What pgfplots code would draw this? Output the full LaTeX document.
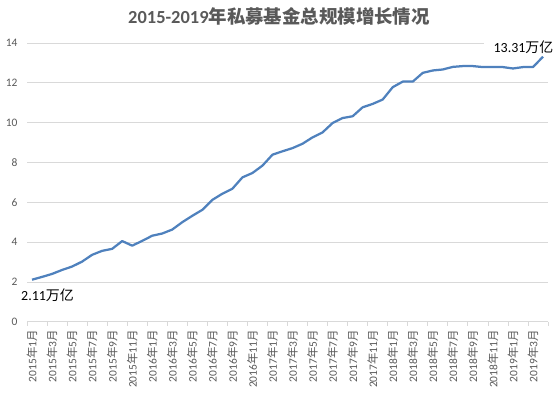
\documentclass[border=0pt]{standalone}
\usepackage{pgfplots}
\pgfplotsset{compat=1.18}
\usepackage{fontspec}
\setmainfont{Carlito}
\newfontfamily\cjk{Noto Sans CJK SC}
\definecolor{txt}{HTML}{595959}
\definecolor{gridc}{HTML}{D9D9D9}
\definecolor{linec}{HTML}{4F81BD}
\newcommand{\ym}[2]{#1{\cjk 年}#2{\cjk 月}}
\begin{document}
\begin{tikzpicture}[x=1bp,y=1bp]
\path[use as bounding box] (0,0) rectangle (558,395);
\node[font=\fontsize{18.5}{20}\selectfont\bfseries, text=txt] at (279,379) {2015-2019{\cjk\bfseries 年私募基金总规模增长情况}};
\begin{axis}[at={(27bp,73.3bp)}, anchor=south west,
  width=521bp, height=278.7bp, scale only axis,
  xmin=-0.5, xmax=51.5, ymin=0, ymax=14,
  ytick={0,2,...,14},
  axis lines*=left,
  x axis line style={gridc, line width=0.75bp},
  y axis line style={draw=none},
  ymajorgrids, grid style={gridc, line width=0.75bp},
  major tick length=0pt,
  ytick style={draw=none},
  major x tick style={draw=none},
  minor xtick={-0.5,1.5,...,51.5},
  minor tick length=4bp, tick align=outside,
  minor x tick style={gridc, line width=0.75bp},
  xtick={0,2,...,50},
  xticklabels={\ym{2015}{1},\ym{2015}{3},\ym{2015}{5},\ym{2015}{7},\ym{2015}{9},\ym{2015}{11},
    \ym{2016}{1},\ym{2016}{3},\ym{2016}{5},\ym{2016}{7},\ym{2016}{9},\ym{2016}{11},
    \ym{2017}{1},\ym{2017}{3},\ym{2017}{5},\ym{2017}{7},\ym{2017}{9},\ym{2017}{11},
    \ym{2018}{1},\ym{2018}{3},\ym{2018}{5},\ym{2018}{7},\ym{2018}{9},\ym{2018}{11},
    \ym{2019}{1},\ym{2019}{3}},
  x tick label style={rotate=90, anchor=east, font=\fontsize{11.5}{12}\selectfont, text=txt},
  xticklabel shift=5bp,
  y tick label style={font=\fontsize{11.5}{12}\selectfont, text=txt},
  yticklabel shift=6bp,
  /pgf/number format/assume math mode=true,
  clip=false,
]
\addplot[linec, line width=2.25bp, line join=round, mark=none] coordinates {
(0,2.11)(1,2.25)(2,2.40)(3,2.60)(4,2.77)(5,3.02)(6,3.36)(7,3.56)(8,3.66)(9,4.05)
(10,3.82)(11,4.06)(12,4.32)(13,4.43)(14,4.63)(15,5.00)(16,5.32)(17,5.62)(18,6.12)(19,6.43)
(20,6.68)(21,7.25)(22,7.47)(23,7.84)(24,8.39)(25,8.56)(26,8.72)(27,8.94)(28,9.26)(29,9.51)
(30,9.98)(31,10.23)(32,10.32)(33,10.77)(34,10.94)(35,11.16)(36,11.78)(37,12.06)(38,12.06)(39,12.50)
(40,12.62)(41,12.67)(42,12.80)(43,12.84)(44,12.84)(45,12.79)(46,12.79)(47,12.79)(48,12.72)(49,12.79)
(50,12.79)(51,13.31)
};
\node[font=\fontsize{14}{16}\selectfont, inner sep=0pt] at (axis cs:1.55,1.34) {2.11{\cjk 万亿}};
\node[font=\fontsize{14}{16}\selectfont, fill=white, inner xsep=10bp, inner ysep=1bp] at (axis cs:49.05,13.8) {13.31{\cjk 万亿}};
\end{axis}
\end{tikzpicture}
\end{document}
